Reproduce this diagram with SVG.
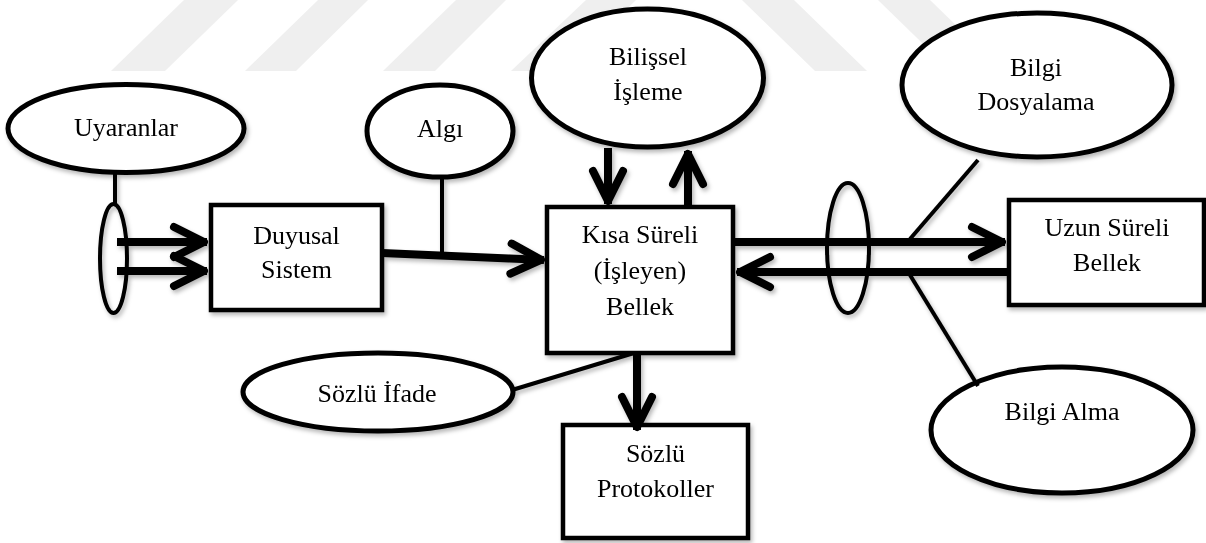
<svg xmlns="http://www.w3.org/2000/svg" width="1206" height="543" viewBox="0 0 1206 543">
  <style>
    .node { fill: #fff; stroke: #000; stroke-width: 5; }
    .box { fill: #fff; stroke: #000; stroke-width: 4.5; }
    .lbl { font-family: "Liberation Serif", "Times New Roman", serif; font-size: 26px; fill: #000; text-anchor: middle; }
    .thick { fill: none; stroke: #000; stroke-width: 8; marker-end: url(#chev); }
    .thin { fill: none; stroke: #000; stroke-width: 4; stroke-linecap: butt; }
    .ring { fill: none; stroke: #000; stroke-width: 4; }
    .wm { fill: #efefef; }
  </style>
  <defs>
    <marker id="chev" markerUnits="userSpaceOnUse" viewBox="-45 -25 55 50" markerWidth="55" markerHeight="50" refX="3" refY="0" orient="auto">
      <path d="M-30,-15 L0,0 L-30,15" fill="none" stroke="#000" stroke-width="8" stroke-linecap="round" stroke-linejoin="round"/>
    </marker>
    <filter id="shadow" x="-5%" y="-5%" width="110%" height="110%">
      <feDropShadow dx="2" dy="3" stdDeviation="2" flood-color="#000" flood-opacity="0.28"/>
    </filter>
  </defs>

  <rect width="1206" height="543" fill="#fff"/>

  <!-- background emblem stripes -->
  <g id="watermark">
    <polygon class="wm" points="111,71 165,71 238,0 184,0"/>
    <polygon class="wm" points="245,71 296,71 368,0 318,0"/>
    <polygon class="wm" points="383,71 435,71 506,0 456,0"/>
    <polygon class="wm" points="511,71 563,71 636,0 586,0"/>
    <polygon class="wm" points="742,0 794,0 867,71 815,71"/>
    <polygon class="wm" points="878,0 930,0 1003,71 951,71"/>
  </g>

  <g filter="url(#shadow)">
    <g id="uyaranlar">
      <ellipse class="node" cx="126" cy="128.5" rx="118" ry="44"/>
      <text class="lbl" x="126" y="136">Uyaranlar</text>
    </g>
    <g id="algi">
      <ellipse class="node" cx="440" cy="131" rx="73" ry="46"/>
      <text class="lbl" x="440" y="137">Algı</text>
    </g>
    <g id="bilissel-isleme">
      <ellipse class="node" cx="647.5" cy="78" rx="116" ry="69"/>
      <text class="lbl" x="648" y="65">Bilişsel</text>
      <text class="lbl" x="648" y="100">İşleme</text>
    </g>
    <g id="bilgi-dosyalama">
      <ellipse class="node" cx="1037" cy="85" rx="135" ry="72"/>
      <text class="lbl" x="1036" y="76">Bilgi</text>
      <text class="lbl" x="1036" y="110">Dosyalama</text>
    </g>
    <g id="bilgi-alma">
      <ellipse class="node" cx="1062" cy="430" rx="131" ry="63"/>
      <text class="lbl" x="1062" y="420">Bilgi Alma</text>
    </g>
    <g id="sozlu-ifade">
      <ellipse class="node" cx="378" cy="392" rx="135" ry="39"/>
      <text class="lbl" x="377" y="402">Sözlü İfade</text>
    </g>
    <g id="duyusal-sistem">
      <rect class="box" x="211" y="205" width="171" height="105"/>
      <text class="lbl" x="296.5" y="244">Duyusal</text>
      <text class="lbl" x="296.5" y="278">Sistem</text>
    </g>
    <g id="kisa-sureli-bellek">
      <rect class="box" x="547" y="207" width="186" height="146"/>
      <text class="lbl" x="640" y="243">Kısa Süreli</text>
      <text class="lbl" x="640" y="279">(İşleyen)</text>
      <text class="lbl" x="640" y="315">Bellek</text>
    </g>
    <g id="uzun-sureli-bellek">
      <rect class="box" x="1009" y="200" width="195" height="105"/>
      <text class="lbl" x="1107" y="236">Uzun Süreli</text>
      <text class="lbl" x="1107" y="271">Bellek</text>
    </g>
    <g id="sozlu-protokoller">
      <rect class="box" x="563" y="425" width="185" height="113"/>
      <text class="lbl" x="655.5" y="462">Sözlü</text>
      <text class="lbl" x="655.5" y="497">Protokoller</text>
    </g>

    <g id="connectors">
      <!-- stimuli feed into the sensory system -->
      <line class="thin" x1="115" y1="172" x2="115" y2="205"/>
      <line class="thick" x1="117" y1="242" x2="207" y2="242"/>
      <line class="thick" x1="117" y1="271" x2="207" y2="271"/>
      <ellipse class="ring" cx="113.5" cy="258.5" rx="13.5" ry="54.5"/>
      <!-- sensory system to short-term memory, tapped by perception -->
      <line class="thick" x1="382" y1="253" x2="544" y2="260"/>
      <line class="thin" x1="442" y1="177" x2="442" y2="254"/>
      <!-- cognitive processing loop -->
      <line class="thick" x1="608" y1="148" x2="608" y2="204"/>
      <line class="thick" x1="688" y1="207" x2="688" y2="151"/>
      <!-- short-term and long-term memory exchange -->
      <line class="thick" x1="734" y1="242" x2="1005" y2="242"/>
      <line class="thick" x1="1008" y1="272" x2="737" y2="272"/>
      <ellipse class="ring" cx="848" cy="248" rx="21" ry="65"/>
      <line class="thin" x1="910" y1="239" x2="978" y2="160"/>
      <line class="thin" x1="910" y1="275" x2="978" y2="386"/>
      <!-- verbal output -->
      <line class="thin" x1="512" y1="390" x2="634" y2="353"/>
      <line class="thick" x1="637" y1="353" x2="637" y2="430"/>
    </g>
  </g>
</svg>
